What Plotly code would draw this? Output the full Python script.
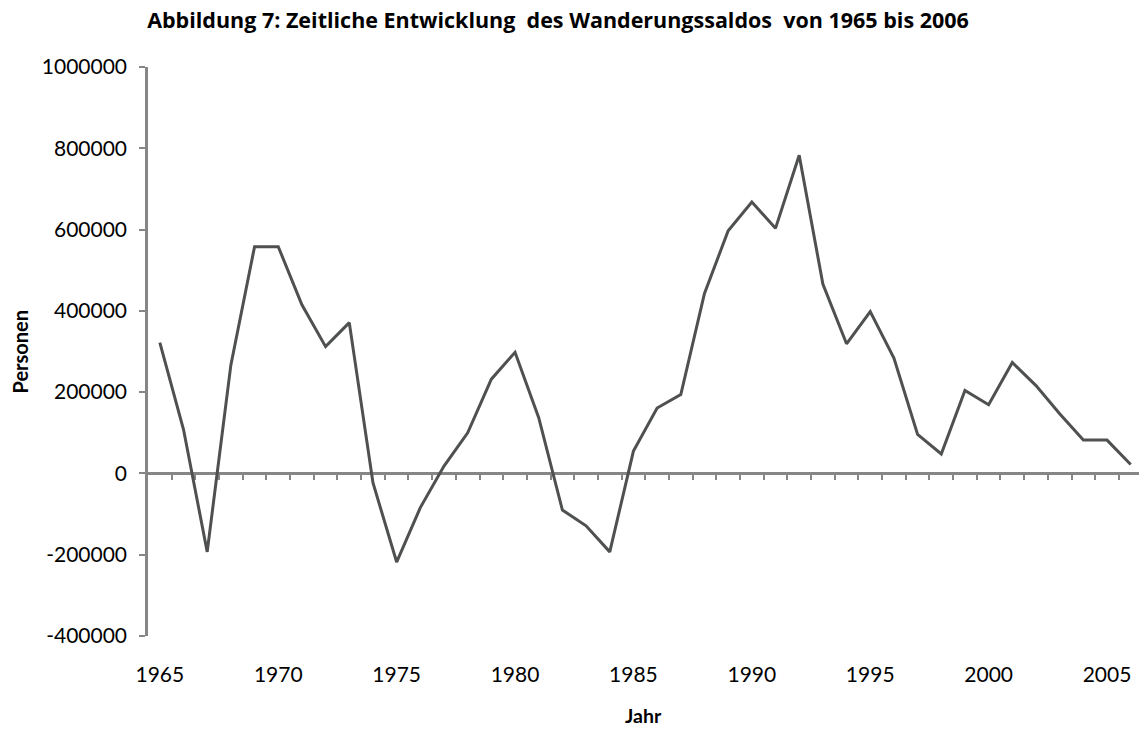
import plotly.graph_objects as go

# Jahr und Wanderungssaldo (Personen)
years = list(range(1965, 2007))
saldo = [
    322000, 108000, -193000, 267000, 558000, 558000, 415000, 312000, 371000, -23000,
    -218000, -84000, 18000, 100000, 232000, 298000, 137000, -90000, -129000, -193000,
    55000, 161000, 194000, 443000, 597000, 668000, 603000, 783000, 466000, 319000,
    398000, 284000, 96000, 48000, 204000, 169000, 273000, 216000, 147000, 82000,
    82000, 22000,
]
label_years = [1965, 1970, 1975, 1980, 1985, 1990, 1995, 2000, 2005]
y_ticks = [-400000, -200000, 0, 200000, 400000, 600000, 800000, 1000000]
y_ticktext = ["-400000", "-200000", "0", "200000", "400000", "600000", "800000", "1000000"]
# Excel style: tick marks sit between the categories
between_ticks = [y + 0.5 for y in years]

title = "Abbildung 7: Zeitliche Entwicklung\u00a0 des Wanderungssaldos\u00a0 von 1965 bis 2006"

FONT = "Lato, 'Open Sans', sans-serif"
AXIS_GREY = "#868686"
LINE_GREY = "#4e514f"
Y_MIN, Y_MAX = -400000, 1000000
X_RANGE = [1964.5, 2006.35]

fig = go.Figure()
fig.add_trace(go.Scatter(
    x=years, y=saldo, mode="lines",
    line=dict(color=LINE_GREY, width=3),
    showlegend=False, hoverinfo="x+y",
))
# empty trace so the label axis at the bottom gets drawn
fig.add_trace(go.Scatter(x=[], y=[], xaxis="x2", showlegend=False, hoverinfo="skip"))

zero_pos = (0 - Y_MIN) / (Y_MAX - Y_MIN)

fig.update_layout(
    width=1139, height=729,
    margin=dict(l=148, r=0, t=67, b=93),
    paper_bgcolor="white", plot_bgcolor="white",
    font=dict(family=FONT, size=21, color="#000000"),
    title=dict(
        text=f"<b>{title}</b>", x=558 / 1139, xanchor="center",
        y=1 - 20 / 729, yanchor="middle",
        font=dict(family="'Open Sans', sans-serif", size=21.5),
    ),
    xaxis=dict(
        range=X_RANGE, anchor="free", position=zero_pos,
        showgrid=False, zeroline=False,
        showline=True, linecolor=AXIS_GREY, linewidth=2.5,
        tickmode="array", tickvals=between_ticks, ticks="outside",
        ticklen=5, tickwidth=1.5, tickcolor=AXIS_GREY,
        showticklabels=False, layer="below traces",
    ),
    xaxis2=dict(
        range=X_RANGE, overlaying="x", anchor="y", side="bottom",
        showgrid=False, zeroline=False, showline=False, ticks="",
        tickmode="array", tickvals=label_years,
        ticktext=[str(y) for y in label_years],
        ticklabelstandoff=24,
    ),
    yaxis=dict(
        range=[Y_MIN, Y_MAX], showgrid=False, zeroline=False,
        showline=True, linecolor=AXIS_GREY, linewidth=2.5,
        tickmode="array", tickvals=y_ticks, ticktext=y_ticktext,
        ticks="outside", ticklen=6, tickwidth=1.5, tickcolor=AXIS_GREY,
        ticklabelstandoff=8,
    ),
    annotations=[
        dict(text="<b>Jahr</b>", xref="paper", yref="paper",
             x=0.5, y=-(715 - 636) / 569, xanchor="center", yanchor="middle",
             showarrow=False, font=dict(size=19.5)),
        dict(text="<b>Personen</b>", xref="paper", yref="paper",
             x=(19 - 148) / 991, y=0.5, xanchor="center", yanchor="middle",
             textangle=-90, showarrow=False, font=dict(size=20)),
    ],
)

# drop the default page margin so the 1139x729 figure fills the window exactly
fig.write_html(
    "out.html",
    config={"displayModeBar": False},
    post_script="document.body.style.margin='0';document.body.style.overflow='hidden';",
)
